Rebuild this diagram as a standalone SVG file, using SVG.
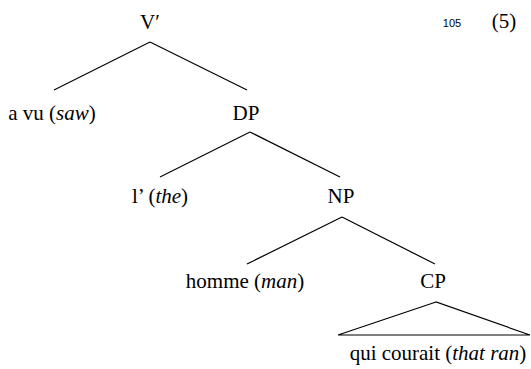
<svg xmlns="http://www.w3.org/2000/svg" width="531" height="369" viewBox="0 0 531 369">
<style>
.t{font-family:'Liberation Serif',serif;font-size:21px;fill:#000;text-anchor:middle}
.i{font-style:italic}
.n{font-family:'Liberation Sans',sans-serif;font-size:11px;fill:#000;text-anchor:middle}
.e{stroke:#000;stroke-width:1.2;fill:none}
</style>
<rect width="531" height="369" fill="#fff"/>
<g id="connectors">
<line class="e" x1="150" y1="42" x2="54" y2="90"/>
<line class="e" x1="150" y1="42" x2="247" y2="90"/>
<line class="e" x1="250" y1="132" x2="160" y2="177"/>
<line class="e" x1="250" y1="132" x2="340" y2="177"/>
<line class="e" x1="342" y1="217" x2="247" y2="264"/>
<line class="e" x1="342" y1="217" x2="435" y2="264"/>
<polygon class="e" points="436,302 338,335 530,335"/>
</g>
<g id="Vbar"><text class="t" font-family="Liberation Serif" x="150" y="29">V′</text></g>
<g id="avu"><text class="t" font-family="Liberation Serif" x="52" y="120">a vu (<tspan class="i">saw</tspan>)</text></g>
<g id="DP"><text class="t" font-family="Liberation Serif" x="246" y="120">DP</text></g>
<g id="the"><text class="t" font-family="Liberation Serif" x="160" y="203">l’ (<tspan class="i">the</tspan>)</text></g>
<g id="NP"><text class="t" font-family="Liberation Serif" x="341" y="203">NP</text></g>
<g id="homme"><text class="t" font-family="Liberation Serif" x="245" y="288">homme (<tspan class="i">man</tspan>)</text></g>
<g id="CP"><text class="t" font-family="Liberation Serif" x="433" y="288">CP</text></g>
<g id="qui"><text class="t" font-family="Liberation Serif" x="438" y="360">qui courait (<tspan class="i">that ran</tspan>)</text></g>
<g id="label"><text class="n" font-family="Liberation Sans" x="452" y="27">105</text><text class="t" font-family="Liberation Serif" x="504" y="28">(5)</text></g>
</svg>
